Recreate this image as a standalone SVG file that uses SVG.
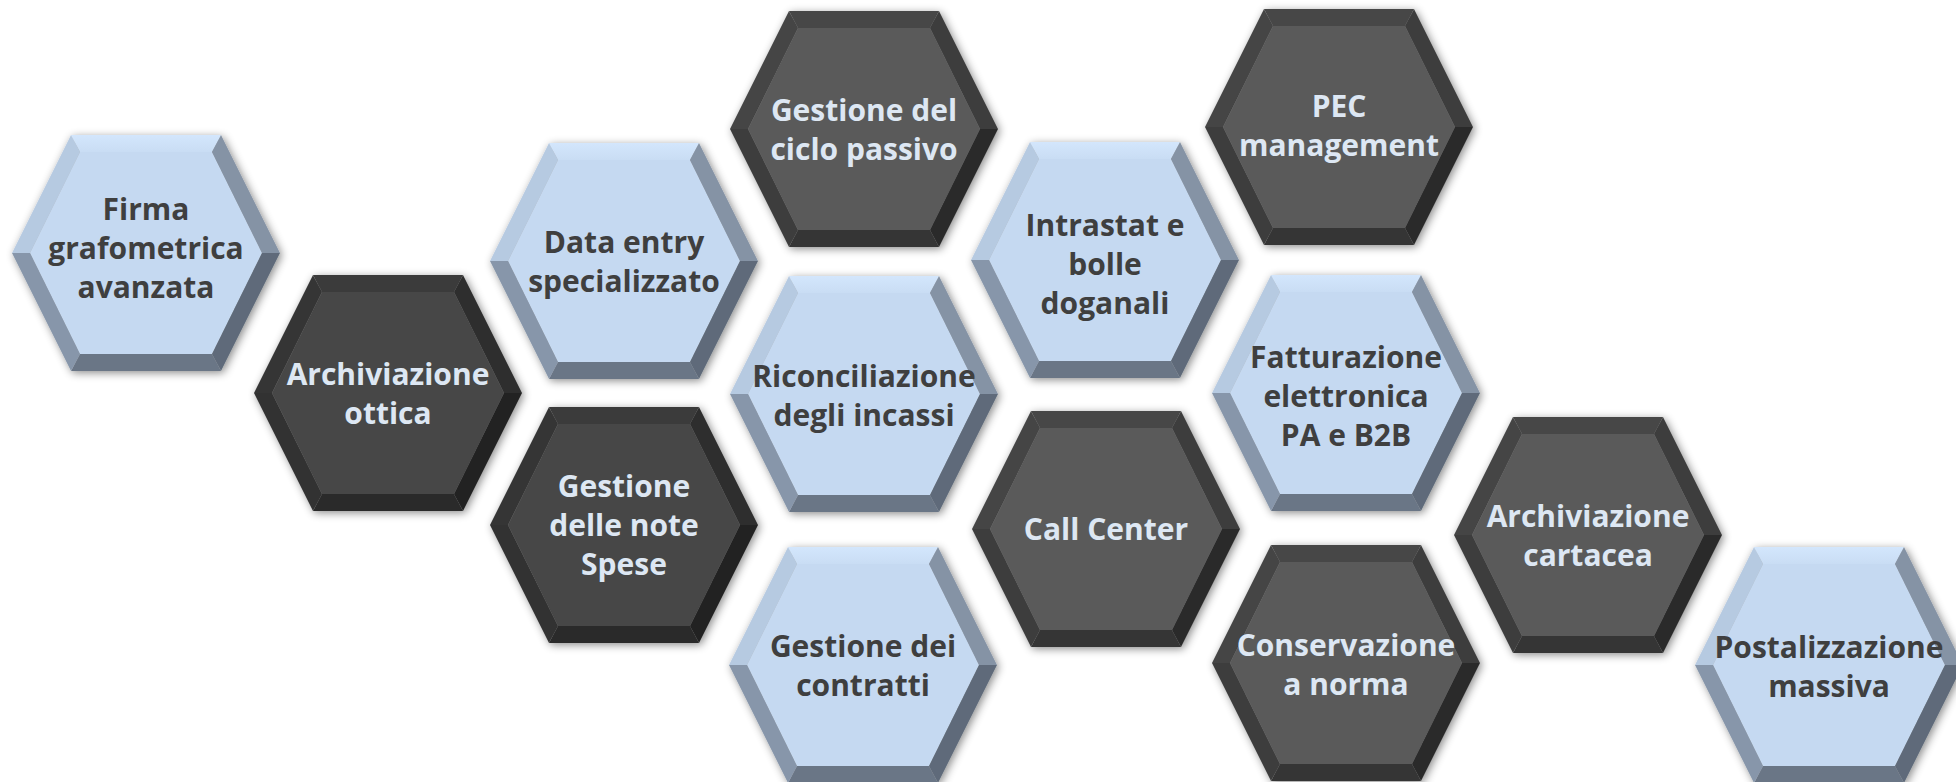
<svg xmlns="http://www.w3.org/2000/svg" xmlns:xlink="http://www.w3.org/1999/xlink" width="1956" height="782" viewBox="0 0 1956 782">
<style>
text{font-family:"Open Sans","Noto Sans","DejaVu Sans",sans-serif;font-weight:700;font-size:30px;text-anchor:middle}
.tl{fill:#3f3f3f}
.td{fill:#dde7f3}
</style>
<defs>
<filter id="sh" x="-20%" y="-20%" width="140%" height="140%">
<feDropShadow dx="2" dy="2" stdDeviation="4" flood-color="#000" flood-opacity="0.45"/>
</filter>
<linearGradient id="gTop" x1="0" y1="0" x2="0" y2="1">
<stop offset="0" stop-color="#d3e6fc"/><stop offset="1" stop-color="#c9ddf4"/>
</linearGradient>
<polygon id="c" points="-116,0 -66,-101 66,-101 116,0 66,101 -66,101"/>
<polygon id="fT" points="-75,-118 75,-118 66,-101 -66,-101"/>
<polygon id="fTR" points="75,-118 134,0 116,0 66,-101"/>
<polygon id="fBR" points="134,0 75,118 66,101 116,0"/>
<polygon id="fB" points="75,118 -75,118 -66,101 66,101"/>
<polygon id="fBL" points="-75,118 -134,0 -116,0 -66,101"/>
<polygon id="fTL" points="-134,0 -75,-118 -66,-101 -116,0"/>
<g id="hexL" filter="url(#sh)">
<use xlink:href="#c" fill="#c5d9f1"/>
<use xlink:href="#fT" fill="url(#gTop)"/>
<use xlink:href="#fTL" fill="#b6cae1"/>
<use xlink:href="#fTR" fill="#8593a5"/>
<use xlink:href="#fBR" fill="#5f6b7a"/>
<use xlink:href="#fB" fill="#6b7686"/>
<use xlink:href="#fBL" fill="#8796aa"/>
</g>
<g id="hexDA" filter="url(#sh)">
<use xlink:href="#c" fill="#474747"/>
<use xlink:href="#fT" fill="#3a3a3a"/>
<use xlink:href="#fTL" fill="#363636"/>
<use xlink:href="#fTR" fill="#2f2f2f"/>
<use xlink:href="#fBR" fill="#222222"/>
<use xlink:href="#fB" fill="#2a2a2a"/>
<use xlink:href="#fBL" fill="#323232"/>
</g>
<g id="hexDB" filter="url(#sh)">
<use xlink:href="#c" fill="#5a5a5a"/>
<use xlink:href="#fT" fill="#474747"/>
<use xlink:href="#fTL" fill="#444444"/>
<use xlink:href="#fTR" fill="#3d3d3d"/>
<use xlink:href="#fBR" fill="#2b2b2b"/>
<use xlink:href="#fB" fill="#343434"/>
<use xlink:href="#fBL" fill="#3e3e3e"/>
</g>
</defs>
<rect width="1956" height="782" fill="#ffffff"/>
<g id="connectors"/>
<g id="n1" transform="translate(146,253)"><use xlink:href="#hexL"/>
<text class="tl" y="-33">Firma</text><text class="tl" y="6">grafometrica</text><text class="tl" y="45">avanzata</text></g>
<g id="n2" transform="translate(388,393)"><use xlink:href="#hexDA"/>
<text class="td" y="-8">Archiviazione</text><text class="td" y="31">ottica</text></g>
<g id="n3" transform="translate(624,261)"><use xlink:href="#hexL"/>
<text class="tl" y="-8">Data entry</text><text class="tl" y="31">specializzato</text></g>
<g id="n4" transform="translate(624,525)"><use xlink:href="#hexDA"/>
<text class="td" y="-28">Gestione</text><text class="td" y="11">delle note</text><text class="td" y="50">Spese</text></g>
<g id="n5" transform="translate(864,129)"><use xlink:href="#hexDB"/>
<text class="td" y="-8">Gestione del</text><text class="td" y="31">ciclo passivo</text></g>
<g id="n6" transform="translate(864,394)"><use xlink:href="#hexL"/>
<text class="tl" y="-7">Riconciliazione</text><text class="tl" y="32">degli incassi</text></g>
<g id="n7" transform="translate(863,665)"><use xlink:href="#hexL"/>
<text class="tl" y="-8">Gestione dei</text><text class="tl" y="31">contratti</text></g>
<g id="n8" transform="translate(1105,260)"><use xlink:href="#hexL"/>
<text class="tl" y="-24">Intrastat e</text><text class="tl" y="15">bolle</text><text class="tl" y="54">doganali</text></g>
<g id="n9" transform="translate(1106,529)"><use xlink:href="#hexDB"/>
<text class="td" y="11">Call Center</text></g>
<g id="n10" transform="translate(1339,127)"><use xlink:href="#hexDB"/>
<text class="td" y="-10">PEC</text><text class="td" y="29">management</text></g>
<g id="n11" transform="translate(1346,393)"><use xlink:href="#hexL"/>
<text class="tl" y="-25">Fatturazione</text><text class="tl" y="14">elettronica</text><text class="tl" y="53">PA e B2B</text></g>
<g id="n12" transform="translate(1346,663)"><use xlink:href="#hexDB"/>
<text class="td" y="-7">Conservazione</text><text class="td" y="32">a norma</text></g>
<g id="n13" transform="translate(1588,535)"><use xlink:href="#hexDB"/>
<text class="td" y="-8">Archiviazione</text><text class="td" y="31">cartacea</text></g>
<g id="n14" transform="translate(1829,665)"><use xlink:href="#hexL"/>
<text class="tl" y="-7">Postalizzazione</text><text class="tl" y="32">massiva</text></g>
</svg>
